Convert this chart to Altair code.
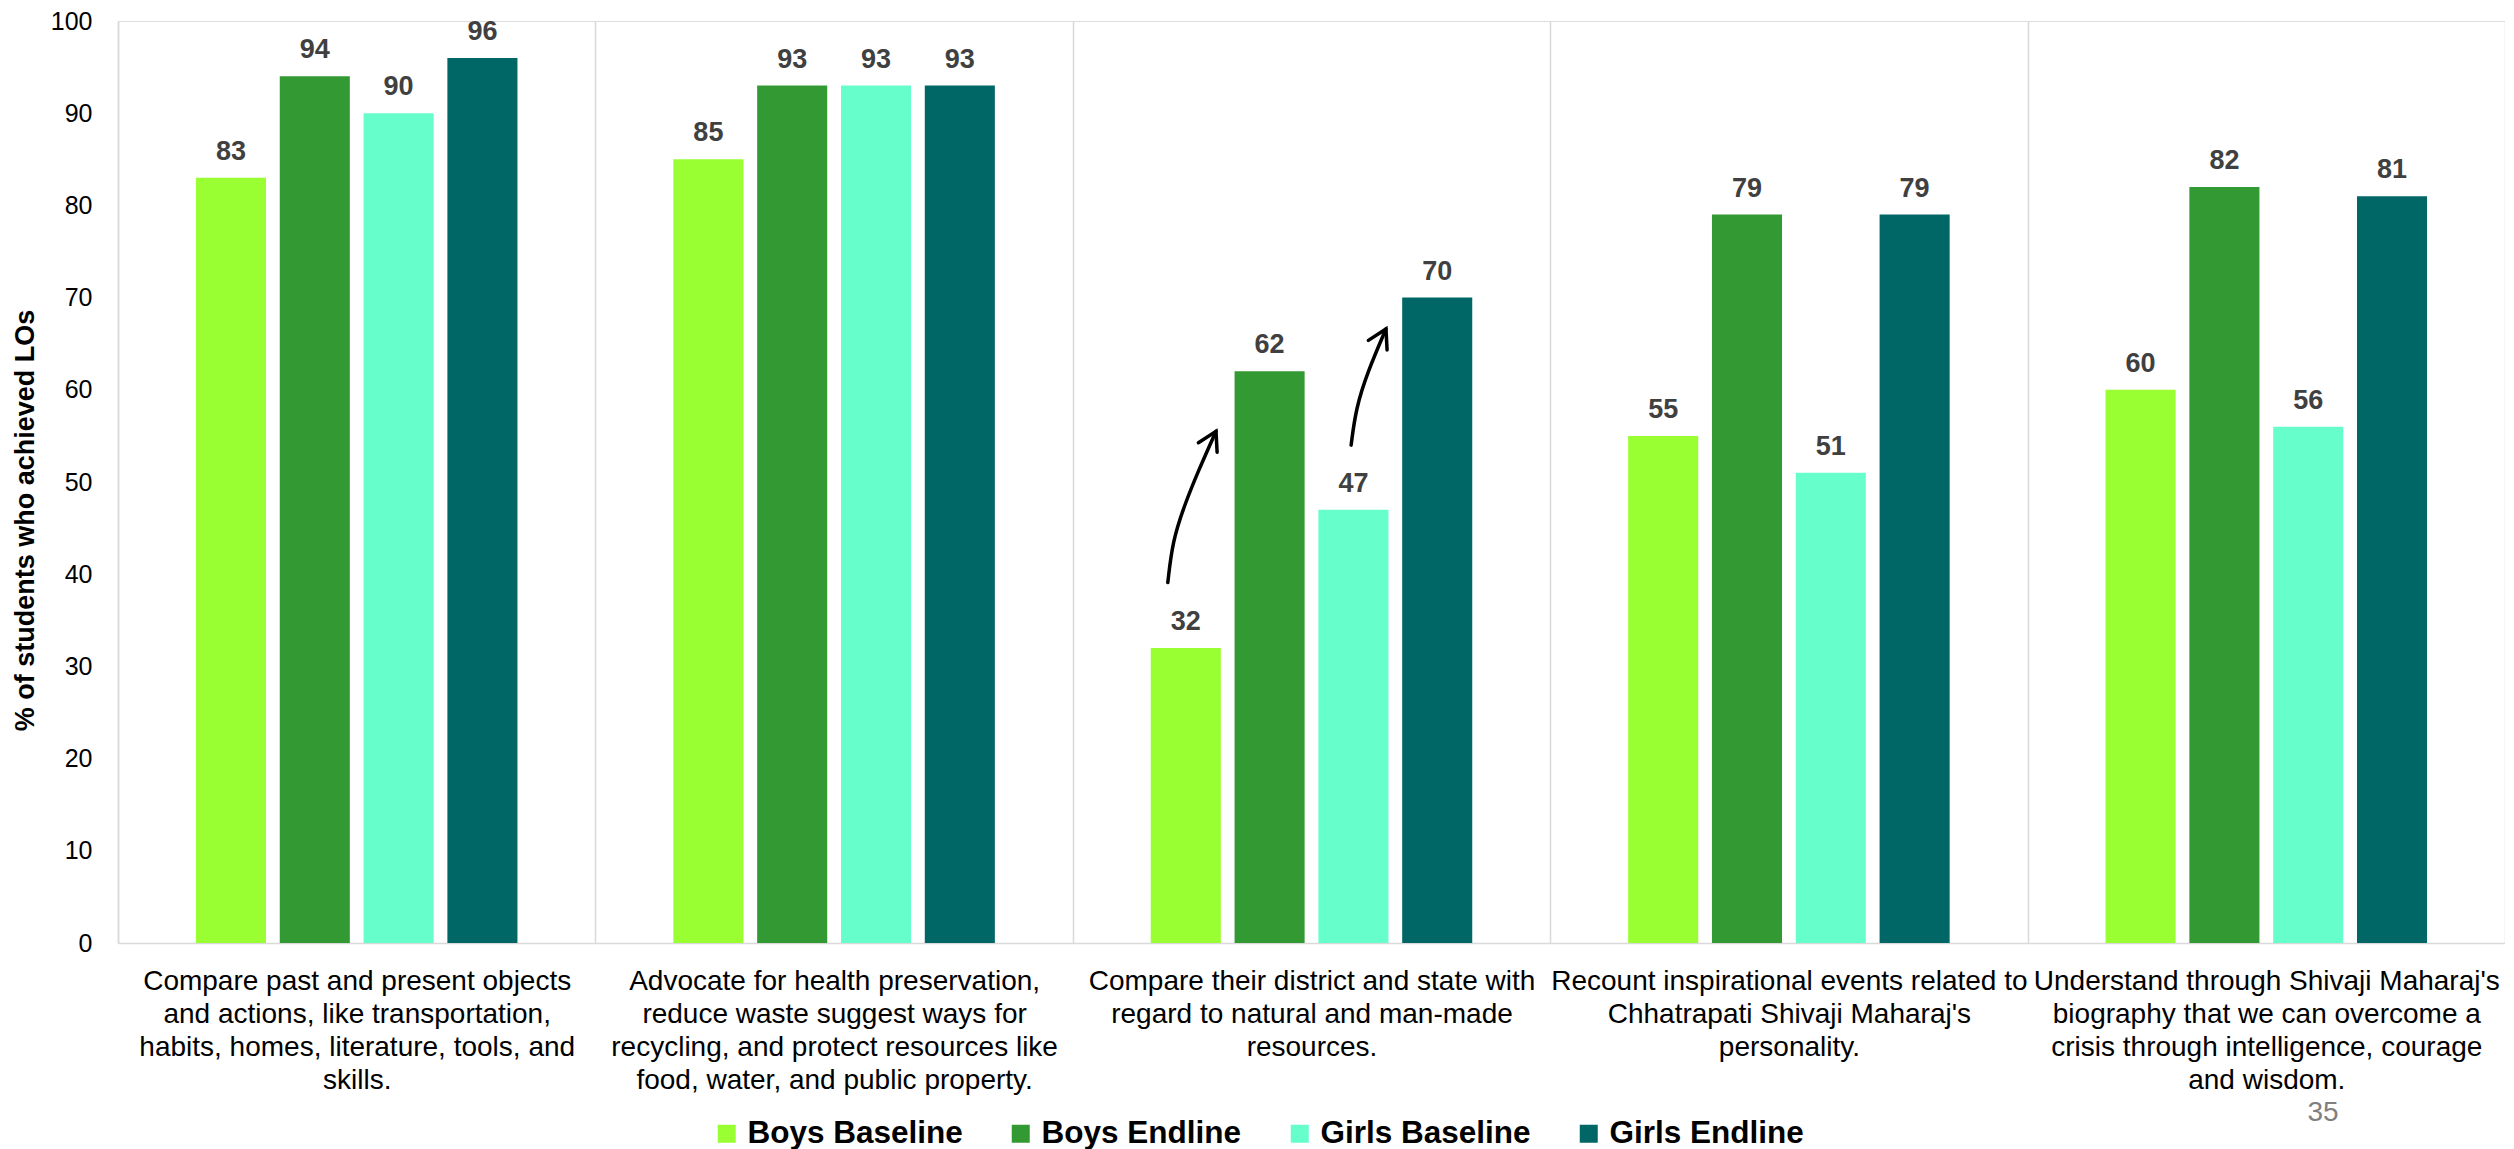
import altair as alt
import pandas as pd

# ---------------- data ----------------
categories = [
    "Compare past and present objects\nand actions, like transportation,\nhabits, homes, literature, tools, and\nskills.",
    "Advocate for health preservation,\nreduce waste suggest ways for\nrecycling, and protect resources like\nfood, water, and public property.",
    "Compare their district and state with\nregard to natural and man-made\nresources.",
    "Recount inspirational events related to\nChhatrapati Shivaji Maharaj's\npersonality.",
    "Understand through Shivaji Maharaj's\nbiography that we can overcome a\ncrisis through intelligence, courage\nand wisdom.",
]
series = ["Boys Baseline", "Boys Endline", "Girls Baseline", "Girls Endline"]
boys_baseline = [83, 85, 32, 55, 60]
boys_endline = [94, 93, 62, 79, 82]
girls_baseline = [90, 93, 47, 51, 56]
girls_endline = [96, 93, 70, 79, 81]
colors = ["#99ff33", "#339933", "#66ffcc", "#006666"]

# annotation arrows, in chart units (category index 0-5 across, % up)
arrow1_x = [2.199, 2.209, 2.234, 2.262, 2.300]
arrow1_y = [39.1, 43.6, 47.5, 51.1, 55.5]
arrow2_x = [2.583, 2.593, 2.618, 2.656]
arrow2_y = [54.0, 58.0, 62.0, 66.6]
page_number = ["35"]

FONT = "Liberation Sans"

rows = []
for s, vals in zip(series, [boys_baseline, boys_endline, girls_baseline, girls_endline]):
    for c, v in zip(categories, vals):
        rows.append({"category": c, "series": s, "value": v})
df = pd.DataFrame(rows)

arrow_rows = []
for aid, (xs, ys) in enumerate([(arrow1_x, arrow1_y), (arrow2_x, arrow2_y)]):
    for i, (u, v) in enumerate(zip(xs, ys)):
        arrow_rows.append({"arrow": aid, "i": i, "u": u, "value": v})
arrow_df = pd.DataFrame(arrow_rows)
head_df = arrow_df.sort_values("i").groupby("arrow").tail(1)

# ---------------- chart ----------------
base = alt.Chart(df).encode(
    x=alt.X(
        "category:N",
        sort=categories,
        scale=alt.Scale(paddingInner=0, paddingOuter=0),
        axis=alt.Axis(
            title=None,
            labelAngle=0,
            labelExpr="split(datum.label, '\\n')",
            labelFont=FONT,
            labelFontSize=28,
            labelLineHeight=33,
            labelColor="black",
            labelPadding=24,
            labelLimit=0,
            labelBaseline="top",
            ticks=False,
            grid=True,
            gridColor="#d9d9d9",
            gridWidth=1.5,
            tickBand="extent",
            domainColor="#d9d9d9",
            domainWidth=1.5,
        ),
    ),
    xOffset=alt.XOffset(
        "series:N", sort=series,
        scale=alt.Scale(paddingInner=0.164, paddingOuter=0.93),
    ),
    y=alt.Y(
        "value:Q",
        scale=alt.Scale(domain=[0, 100], nice=False),
        axis=alt.Axis(
            values=list(range(0, 101, 10)),
            grid=False,
            ticks=False,
            domainColor="#d9d9d9",
            domainWidth=1.5,
            labelFont=FONT,
            labelFontSize=25,
            labelColor="black",
            labelPadding=26,
            title="% of students who achieved LOs",
            titleFont=FONT,
            titleFontSize=27,
            titleFontWeight="bold",
            titleColor="black",
            titlePadding=11,
            titleY=499,
        ),
    ),
)

bars = base.mark_bar().encode(
    color=alt.Color(
        "series:N",
        sort=series,
        scale=alt.Scale(domain=series, range=colors),
        legend=alt.Legend(
            orient="none",
            legendX=593,
            legendY=1097,
            direction="horizontal",
            title=None,
            symbolType="square",
            symbolSize=324,
            symbolStrokeWidth=0,
            labelFont=FONT,
            labelFontSize=31.5,
            labelFontWeight="bold",
            labelColor="black",
            labelOffset=5,
            columnPadding=42,
            gridAlign="none",
            padding=0,
            labelLimit=0,
        ),
    )
)

labels = base.mark_text(
    align="center", baseline="alphabetic", dy=-18,
    font=FONT, fontSize=27, fontWeight="bold", color="#404040",
).encode(text="value:Q")

arrow_x = alt.X("u:Q", scale=alt.Scale(domain=[0, 5], nice=False, zero=False), axis=None)

arrows = alt.Chart(arrow_df).mark_line(
    interpolate="basis", color="black", strokeWidth=3.5, strokeCap="round"
).encode(x=arrow_x, y=alt.Y("value:Q"), detail="arrow:N", order="i:Q")

heads = alt.Chart(head_df).mark_point(
    shape="M -0.5 0.866 L 0 0 L 0.5 0.866",
    filled=False, size=1764, strokeWidth=3.5, color="black",
    angle=27, opacity=1, strokeCap="round",
).encode(x=arrow_x, y=alt.Y("value:Q"))

page = alt.Chart(pd.DataFrame({"t": page_number})).mark_text(
    font=FONT, fontSize=28, color="#808080", align="center", baseline="middle"
).encode(text="t:N", x=alt.value(2205), y=alt.value(1092))

chart = (
    alt.layer(alt.layer(bars, labels), alt.layer(arrows, heads), page)
    .resolve_scale(x="independent")
    .properties(width=2387, height=922,
                padding={"left": 3, "top": 1, "right": 0, "bottom": 0})
    .configure_view(stroke=None)
    .configure(font=FONT)
)

chart.save("out.html", embed_options={"renderer": "svg", "actions": False})
